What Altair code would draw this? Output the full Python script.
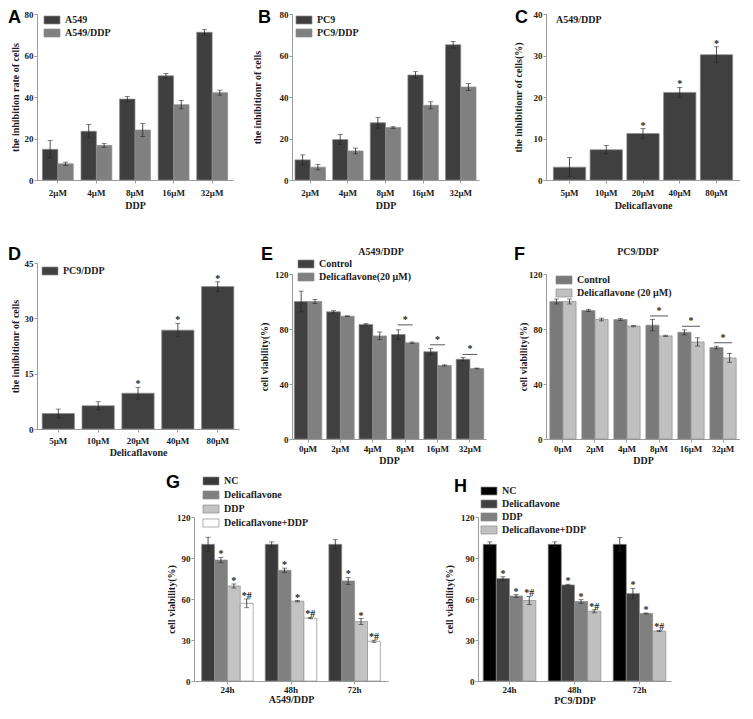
import altair as alt
import pandas as pd

SERIF = "Liberation Serif"
SANS = "Liberation Sans"
AXIS_GREY = "#9c9c9c"
INK = "#1b1b1b"

# ---------------- data ----------------
# Panel A
A_CATS = ["2μM", "4μM", "8μM", "16μM", "32μM"]
A_SERIES = ["A549", "A549/DDP"]
A_A549 = [14.8, 23.5, 39.0, 50.2, 71.2]
A_A549_ERR = [4.2, 3.2, 1.3, 1.1, 1.4]
A_A549DDP = [7.8, 16.7, 24.1, 36.3, 42.1]
A_A549DDP_ERR = [0.8, 0.9, 3.1, 2.0, 1.2]
A_YTICKS = [0, 20, 40, 60, 80]

# Panel B
B_CATS = ["2μM", "4μM", "8μM", "16μM", "32μM"]
B_SERIES = ["PC9", "PC9/DDP"]
B_PC9 = [9.7, 19.5, 27.6, 50.6, 65.2]
B_PC9_ERR = [2.4, 2.4, 2.6, 1.6, 1.6]
B_PC9DDP = [6.2, 14.0, 25.3, 36.0, 44.8]
B_PC9DDP_ERR = [1.3, 1.4, 0.4, 1.7, 1.7]
B_YTICKS = [0, 20, 40, 60, 80]

# Panel C
C_CATS = ["5μM", "10μM", "20μM", "40μM", "80μM"]
C_SERIES = ["A549/DDP"]
C_VALUES = [3.1, 7.3, 11.2, 21.1, 30.2]
C_ERR = [2.3, 1.0, 1.2, 1.2, 1.9]
C_STARS = ["", "", "*", "*", "*"]
C_YTICKS = [0, 10, 20, 30, 40]

# Panel D
D_CATS = ["5μM", "10μM", "20μM", "40μM", "80μM"]
D_SERIES = ["PC9/DDP"]
D_VALUES = [4.2, 6.3, 9.7, 26.8, 38.6]
D_ERR = [1.2, 1.1, 1.6, 1.8, 1.3]
D_STARS = ["", "", "*", "*", "*"]
D_YTICKS = [0, 15, 30, 45]

# Panel E
E_CATS = ["0μM", "2μM", "4μM", "8μM", "16μM", "32μM"]
E_SERIES = ["Control", "Delicaflavone(20 μM)"]
E_CONTROL = [100, 92.5, 83.3, 76.0, 63.5, 58.0]
E_CONTROL_ERR = [7.5, 0.8, 0.6, 3.4, 2.2, 1.4]
E_DELICA = [100, 89.3, 75.0, 70.0, 53.5, 51.3]
E_DELICA_ERR = [1.5, 0.3, 2.8, 0.6, 0.4, 0.3]
E_SIG_CATS = ["8μM", "16μM", "32μM"]
E_SIG_Y = [83.0, 68.5, 61.5]
E_YTICKS = [0, 40, 80, 120]

# Panel F
F_CATS = ["0μM", "2μM", "4μM", "8μM", "16μM", "32μM"]
F_SERIES = ["Control", "Delicaflavone (20 μM)"]
F_CONTROL = [100, 93.5, 86.9, 82.8, 77.6, 66.5]
F_CONTROL_ERR = [1.8, 0.8, 0.8, 4.2, 1.8, 1.0]
F_DELICA = [100, 86.9, 82.1, 75.0, 70.6, 59.0]
F_DELICA_ERR = [1.8, 1.0, 0.5, 0.5, 3.0, 3.2]
F_SIG_CATS = ["8μM", "16μM", "32μM"]
F_SIG_Y = [89.5, 82.0, 70.0]
F_YTICKS = [0, 40, 80, 120]

# Panel G
G_CATS = ["24h", "48h", "72h"]
G_SERIES = ["NC", "Delicaflavone", "DDP", "Delicaflavone+DDP"]
G_NC = [100, 100, 100]
G_NC_ERR = [5.2, 1.8, 3.4]
G_DELICA = [88.5, 81.0, 73.2]
G_DELICA_ERR = [2.0, 1.6, 2.6]
G_DDP = [69.5, 58.4, 43.5]
G_DDP_ERR = [1.5, 0.5, 2.2]
G_COMBO = [56.8, 46.0, 29.0]
G_COMBO_ERR = [3.2, 0.5, 0.8]
G_STARS = ["", "*", "*", "*#"]
G_YTICKS = [0, 30, 60, 90, 120]

# Panel H
H_CATS = ["24h", "48h", "72h"]
H_SERIES = ["NC", "Delicaflavone", "DDP", "Delicaflavone+DDP"]
H_NC = [100, 100, 100]
H_NC_ERR = [1.8, 1.8, 5.0]
H_DELICA = [75.0, 70.3, 64.1]
H_DELICA_ERR = [1.3, 0.5, 3.6]
H_DDP = [62.2, 58.2, 49.4]
H_DDP_ERR = [1.0, 1.3, 0.4]
H_COMBO = [58.9, 51.0, 36.6]
H_COMBO_ERR = [3.0, 1.1, 0.4]
H_STARS = ["", "*", "*", "*#"]
H_YTICKS = [0, 30, 60, 90, 120]


def build_frame(cats, series, vals, errs, stars):
    rows = []
    for si, s in enumerate(series):
        for ci, c in enumerate(cats):
            v = vals[si][ci]
            e = errs[si][ci]
            st = ""
            if stars is not None:
                st = stars[si][ci]
            rows.append({"cat": c, "series": s, "value": v, "lo": v - e, "hi": v + e, "star": st})
    return pd.DataFrame(rows)


def panel(letter, cats, series, vals, errs, colors, ytitle, yticks, xtitle,
          W, H, L, T, B, pi, po, letter_xy, ytitle_x,
          lab_pad=2, title_pad=1, legend_xy=None, row_pad=1,
          stars=None, sig=None, sig_w=15, top_title=None, inner_title=None):
    df = build_frame(cats, series, vals, errs, stars)
    ysc = alt.Scale(domain=[0, yticks[-1]], nice=False, zero=True)
    yax = alt.Axis(title=ytitle, values=yticks, format="d", grid=False,
                   domainColor=AXIS_GREY, tickColor=AXIS_GREY, tickSize=3, labelPadding=1,
                   labelFont=SERIF, labelFontWeight="bold", labelFontSize=9, labelColor=INK,
                   titleFont=SERIF, titleFontWeight="bold", titleFontSize=10, titleColor=INK,
                   titleX=ytitle_x, titleY=H / 2, titleAngle=270, titleBaseline="middle",
                   titleAlign="center")
    xax = alt.Axis(title=xtitle, labelAngle=0, grid=False, domainColor=AXIS_GREY,
                   tickColor=AXIS_GREY, tickSize=3, labelPadding=lab_pad,
                   titlePadding=title_pad, labelOverlap=False,
                   labelFont=SERIF, labelFontWeight="bold", labelFontSize=9, labelColor=INK,
                   titleFont=SERIF, titleFontWeight="bold", titleFontSize=10, titleColor=INK)
    X = alt.X("cat:N", sort=cats, scale=alt.Scale(paddingInner=pi, paddingOuter=po), axis=xax)
    XO = alt.XOffset("series:N", sort=series,
                     scale=alt.Scale(domain=series, paddingInner=0, paddingOuter=0))
    if legend_xy is not None:
        leg = alt.Legend(title=None, orient="none", legendX=legend_xy[0], legendY=legend_xy[1],
                         direction="vertical", symbolType="M-1,-1H3V1H-1Z", symbolSize=64,
                         symbolStrokeColor="#8c8c8c", symbolStrokeWidth=0.7, symbolOpacity=1,
                         labelFont=SERIF, labelFontWeight="bold", labelFontSize=10,
                         labelColor=INK, labelOffset=12, rowPadding=row_pad, padding=0)
    else:
        leg = None
    color = alt.Color("series:N", sort=series,
                      scale=alt.Scale(domain=series, range=colors), legend=leg)
    base = alt.Chart(df)

    anchor = alt.Chart(pd.DataFrame({"k": [0]})).mark_rect(
        fill="white", opacity=0, strokeWidth=0).encode(
        x=alt.value(-L), x2=alt.value(W), y=alt.value(-T), y2=alt.value(H + B))
    bars = base.mark_bar(stroke="#8c8c8c", strokeWidth=0.7).encode(
        x=X, xOffset=XO, y=alt.Y("value:Q", scale=ysc, axis=yax), color=color)
    err = base.mark_rule(color="#262626", strokeWidth=0.8).encode(
        x=X, xOffset=XO, y=alt.Y("lo:Q", scale=ysc, axis=yax), y2="hi:Q")
    cap_hi = base.mark_tick(color="#262626", size=5, thickness=0.8).encode(
        x=X, xOffset=XO, y=alt.Y("hi:Q", scale=ysc, axis=yax))
    cap_lo = base.mark_tick(color="#262626", size=5, thickness=0.8).encode(
        x=X, xOffset=XO, y=alt.Y("lo:Q", scale=ysc, axis=yax))
    layers = [anchor, bars, err, cap_hi, cap_lo]

    if stars is not None:
        layers.append(base.mark_text(font=SERIF, fontSize=10, fontWeight="bold", color=INK,
                                     baseline="alphabetic", dy=0).encode(
            x=X, xOffset=XO, y=alt.Y("hi:Q", scale=ysc, axis=yax), text="star:N"))
    if sig is not None:
        sdf = pd.DataFrame({"cat": sig[0], "y": sig[1], "star": ["*"] * len(sig[0])})
        layers.append(alt.Chart(sdf).mark_tick(color="#111111", size=sig_w, thickness=1).encode(
            x=X, y=alt.Y("y:Q", scale=ysc, axis=yax)))
        layers.append(alt.Chart(sdf).mark_text(font=SERIF, fontSize=10, fontWeight="bold",
                                               color=INK, baseline="alphabetic", dy=-2).encode(
            x=X, y=alt.Y("y:Q", scale=ysc, axis=yax), text="star:N"))
    if top_title is not None:
        layers.append(alt.Chart(pd.DataFrame({"t": [top_title[0]]})).mark_text(
            font=SERIF, fontSize=10, fontWeight="bold", color=INK, align="center",
            baseline="middle").encode(text="t:N", x=alt.value(top_title[1]),
                                      y=alt.value(top_title[2])))
    if inner_title is not None:
        layers.append(alt.Chart(pd.DataFrame({"t": [inner_title[0]]})).mark_text(
            font=SERIF, fontSize=10, fontWeight="bold", color=INK, align="left",
            baseline="middle").encode(text="t:N", x=alt.value(inner_title[1]),
                                      y=alt.value(inner_title[2])))
    layers.append(alt.Chart(pd.DataFrame({"t": [letter]})).mark_text(
        font=SANS, fontSize=18, fontWeight="bold", color="black", align="left",
        baseline="alphabetic").encode(text="t:N", x=alt.value(letter_xy[0]),
                                      y=alt.value(letter_xy[1])))
    return alt.layer(*layers).properties(width=W, height=H)


pA = panel("A", A_CATS, A_SERIES, [A_A549, A_A549DDP], [A_A549_ERR, A_A549DDP_ERR],
           ["#3f3f3f", "#808080"], "the inhibition rate of cells", A_YTICKS, "DDP",
           W=196, H=166, L=29, T=6, B=34, pi=0.2, po=0.14, letter_xy=(-29, 8.5),
           ytitle_x=-22, lab_pad=5, title_pad=3, legend_xy=(6, 1))
pB = panel("B", B_CATS, B_SERIES, [B_PC9, B_PC9DDP], [B_PC9_ERR, B_PC9DDP_ERR],
           ["#3f3f3f", "#808080"], "the inhibitionr of cells", B_YTICKS, "DDP",
           W=187, H=166, L=53, T=6, B=34, pi=0.19, po=0.08, letter_xy=(-34, 8.5),
           ytitle_x=-35, lab_pad=5, title_pad=3, legend_xy=(3, 1))
pC = panel("C", C_CATS, C_SERIES, [C_VALUES], [C_ERR], ["#404040"],
           "the inhibitionr of cells(%)", C_YTICKS, "Delicaflavone",
           W=194, H=166, L=60, T=6, B=34, pi=0.12, po=0.2, letter_xy=(-31, 8.5),
           ytitle_x=-28, lab_pad=5, title_pad=3, stars=[C_STARS],
           inner_title=("A549/DDP", 10, 6))
pD = panel("D", D_CATS, D_SERIES, [D_VALUES], [D_ERR], ["#404040"],
           "the inhibitionr of cells", D_YTICKS, "Delicaflavone",
           W=202, H=166, L=29, T=49, B=30, pi=0.19, po=0.13, letter_xy=(-29, -3),
           ytitle_x=-22, lab_pad=4, title_pad=2, legend_xy=(4, 3), stars=[D_STARS])
pE = panel("E", E_CATS, E_SERIES, [E_CONTROL, E_DELICA], [E_CONTROL_ERR, E_DELICA_ERR],
           ["#404040", "#808080"], "cell viability(%)", E_YTICKS, "DDP",
           W=194, H=165, L=53, T=60, B=30, pi=0.15, po=0.07, letter_xy=(-31, -14),
           ytitle_x=-28, lab_pad=2, title_pad=2, legend_xy=(5, -15),
           sig=(E_SIG_CATS, E_SIG_Y), sig_w=15, top_title=("A549/DDP", 89, -22))
pF = panel("F", F_CATS, F_SERIES, [F_CONTROL, F_DELICA], [F_CONTROL_ERR, F_DELICA_ERR],
           ["#7a7a7a", "#c0c0c0"], "cell viability(%)", F_YTICKS, "DDP",
           W=194, H=165, L=60, T=60, B=30, pi=0.18, po=0.12, letter_xy=(-32, -14),
           ytitle_x=-23, lab_pad=2, title_pad=2, legend_xy=(9, 1),
           sig=(F_SIG_CATS, F_SIG_Y), sig_w=18, top_title=("PC9/DDP", 92, -22))
pG = panel("G", G_CATS, G_SERIES, [G_NC, G_DELICA, G_DDP, G_COMBO],
           [G_NC_ERR, G_DELICA_ERR, G_DDP_ERR, G_COMBO_ERR],
           ["#3a3a3a", "#808080", "#c3c3c3", "#ffffff"], "cell viability(%)", G_YTICKS,
           "A549/DDP", W=194, H=164, L=32, T=48, B=24, pi=0.19, po=0.12,
           letter_xy=(-28, -29), ytitle_x=-23, lab_pad=1, title_pad=0,
           legend_xy=(8, -41), row_pad=2,
           stars=[[s] * len(G_CATS) for s in G_STARS])
pH = panel("H", H_CATS, H_SERIES, [H_NC, H_DELICA, H_DDP, H_COMBO],
           [H_NC_ERR, H_DELICA_ERR, H_DDP_ERR, H_COMBO_ERR],
           ["#000000", "#404040", "#808080", "#c0c0c0"], "cell viability(%)", H_YTICKS,
           "PC9/DDP", W=193, H=164, L=90, T=48, B=24, pi=0.19, po=0.08,
           letter_xy=(-24, -25), ytitle_x=-29, lab_pad=1, title_pad=1,
           legend_xy=(2, -31), row_pad=1,
           stars=[[s] * len(H_CATS) for s in H_STARS])

spacer = alt.Chart(pd.DataFrame({"k": [0]})).mark_rect(
    fill="white", opacity=0, strokeWidth=0).encode(
    x=alt.value(0), x2=alt.value(125), y=alt.value(0), y2=alt.value(1)).properties(
    width=125, height=164)


def indep(c):
    return c.resolve_scale(x="independent", y="independent", color="independent",
                           xOffset="independent").resolve_legend(color="independent")


colA = indep(alt.vconcat(pA, pD, spacing=0))
colB = indep(alt.vconcat(pB, pE, spacing=0))
colC = indep(alt.vconcat(pC, pF, spacing=0))
row1 = indep(alt.hconcat(colA, colB, colC, spacing=0))
row2 = indep(alt.hconcat(spacer, pG, pH, spacing=0))

chart = indep(alt.vconcat(row1, row2, spacing=0)).properties(
    padding=0, background="white").configure_view(strokeWidth=0)

chart.save("out.html", embed_options={"renderer": "svg", "actions": False})
